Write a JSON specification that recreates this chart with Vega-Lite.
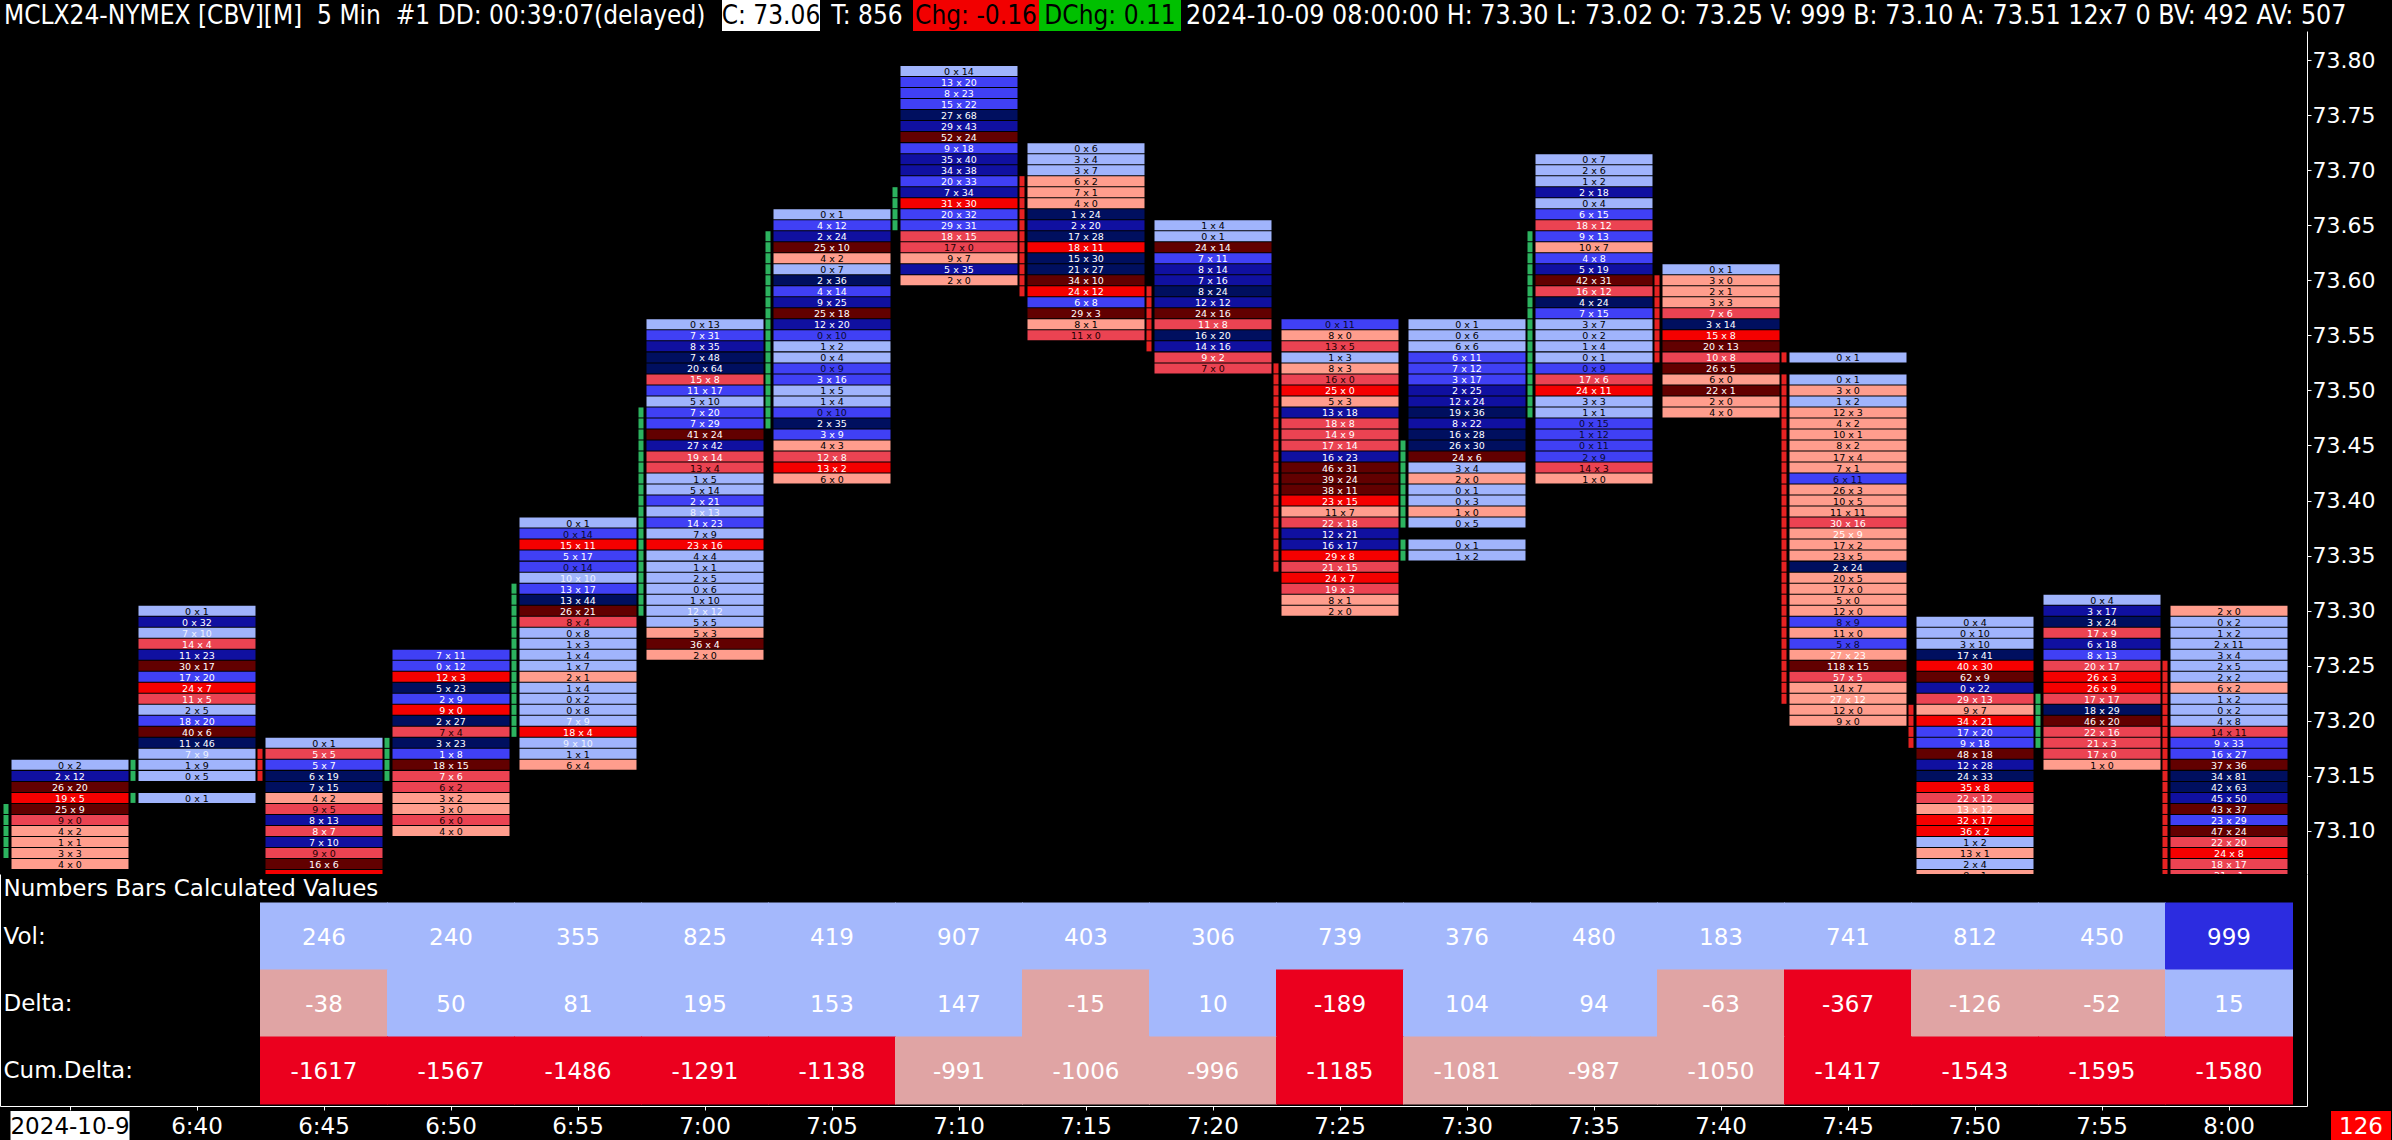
{
  "$schema": "https://vega.github.io/schema/vega-lite/v6.json",
  "description": "MCLX24 5 min numbers bars (footprint) with calculated values table",
  "background": "black",
  "padding": 0,
  "spacing": 0,
  "config": {"view": {"stroke": null}, "concat": {"spacing": 0}},
  "resolve": {"scale": {"color": "independent", "fill": "independent"}},
  "vconcat": [
    {
      "spacing": 0,
      "hconcat": [
        {
          "width": 721, "height": 31,
          "data": {"values": [{"s": "MCLX24-NYMEX [CBV][M]\u00a0\u00a05 Min\u00a0\u00a0#1 DD: 00:39:07(delayed)"}]},
          "mark": {"type": "text", "font": "DejaVu Sans Condensed", "fontSize": 26, "color": "white", "align": "left", "dx": 4, "baseline": "middle"},
          "encoding": {"text": {"field": "s"}, "x": {"datum": 0, "type": "quantitative", "scale": {"domain": [0, 1]}, "axis": null}}
        },
        {
          "width": 98, "height": 31,
          "view": {"fill": "#ffffff", "stroke": null},
          "data": {"values": [{"s": "C: 73.06"}]},
          "mark": {"type": "text", "font": "DejaVu Sans Condensed", "fontSize": 26, "color": "black", "baseline": "middle"},
          "encoding": {"text": {"field": "s"}}
        },
        {
          "width": 92, "height": 31,
          "data": {"values": [{"s": "T: 856"}]},
          "mark": {"type": "text", "font": "DejaVu Sans Condensed", "fontSize": 26, "color": "white", "baseline": "middle"},
          "encoding": {"text": {"field": "s"}}
        },
        {
          "width": 126, "height": 31,
          "view": {"fill": "#f20000", "stroke": null},
          "data": {"values": [{"s": "Chg: -0.16"}]},
          "mark": {"type": "text", "font": "DejaVu Sans Condensed", "fontSize": 26, "color": "black", "baseline": "middle"},
          "encoding": {"text": {"field": "s"}}
        },
        {
          "width": 142, "height": 31,
          "view": {"fill": "#00c000", "stroke": null},
          "data": {"values": [{"s": "DChg: 0.11"}]},
          "mark": {"type": "text", "font": "DejaVu Sans Condensed", "fontSize": 26, "color": "black", "baseline": "middle"},
          "encoding": {"text": {"field": "s"}}
        },
        {
          "width": 1213, "height": 31,
          "data": {"values": [{"s": "2024-10-09 08:00:00 H: 73.30 L: 73.02 O: 73.25 V: 999 B: 73.10 A: 73.51 12x7 0 BV: 492 AV: 507"}]},
          "mark": {"type": "text", "font": "DejaVu Sans Condensed", "fontSize": 26.5, "color": "white", "align": "left", "dx": 5, "baseline": "middle", "clip": true},
          "encoding": {"text": {"field": "s"}, "x": {"datum": 0, "type": "quantitative", "scale": {"domain": [0, 1]}, "axis": null}}
        }
      ]
    },
    {
      "width": 2307,
      "height": 843,
      "data": {"values": [
        {"i":1,"p":73.16,"t":"0 x 2","c":"b1"},
        {"i":1,"p":73.15,"t":"2 x 12","c":"b3"},
        {"i":1,"p":73.14,"t":"26 x 20","c":"r4"},
        {"i":1,"p":73.13,"t":"19 x 5","c":"r3"},
        {"i":1,"p":73.12,"t":"25 x 9","c":"r4","m":"u"},
        {"i":1,"p":73.11,"t":"9 x 0","c":"r2k","m":"u"},
        {"i":1,"p":73.10,"t":"4 x 2","c":"r1","m":"u"},
        {"i":1,"p":73.09,"t":"1 x 1","c":"r1","m":"u"},
        {"i":1,"p":73.08,"t":"3 x 3","c":"r1","m":"u"},
        {"i":1,"p":73.07,"t":"4 x 0","c":"r1"},

        {"i":2,"p":73.30,"t":"0 x 1","c":"b1"},
        {"i":2,"p":73.29,"t":"0 x 32","c":"b3"},
        {"i":2,"p":73.28,"t":"7 x 10","c":"b1w"},
        {"i":2,"p":73.27,"t":"14 x 4","c":"r2"},
        {"i":2,"p":73.26,"t":"11 x 23","c":"b3"},
        {"i":2,"p":73.25,"t":"30 x 17","c":"r4"},
        {"i":2,"p":73.24,"t":"17 x 20","c":"b2"},
        {"i":2,"p":73.23,"t":"24 x 7","c":"r3"},
        {"i":2,"p":73.22,"t":"11 x 5","c":"r2"},
        {"i":2,"p":73.21,"t":"2 x 5","c":"b1"},
        {"i":2,"p":73.20,"t":"18 x 20","c":"b2"},
        {"i":2,"p":73.19,"t":"40 x 6","c":"r4"},
        {"i":2,"p":73.18,"t":"11 x 46","c":"b4"},
        {"i":2,"p":73.17,"t":"7 x 9","c":"b1w"},
        {"i":2,"p":73.16,"t":"1 x 9","c":"b1","m":"u"},
        {"i":2,"p":73.15,"t":"0 x 5","c":"b1","m":"u"},
        {"i":2,"p":73.13,"t":"0 x 1","c":"b1","m":"u"},

        {"i":3,"p":73.18,"t":"0 x 1","c":"b1"},
        {"i":3,"p":73.17,"t":"5 x 5","c":"r2","m":"d"},
        {"i":3,"p":73.16,"t":"5 x 7","c":"b2","m":"d"},
        {"i":3,"p":73.15,"t":"6 x 19","c":"b4","m":"d"},
        {"i":3,"p":73.14,"t":"7 x 15","c":"b4"},
        {"i":3,"p":73.13,"t":"4 x 2","c":"r1"},
        {"i":3,"p":73.12,"t":"9 x 5","c":"r2k"},
        {"i":3,"p":73.11,"t":"8 x 13","c":"b3"},
        {"i":3,"p":73.10,"t":"8 x 7","c":"r2"},
        {"i":3,"p":73.09,"t":"7 x 10","c":"b3"},
        {"i":3,"p":73.08,"t":"9 x 0","c":"r2k"},
        {"i":3,"p":73.07,"t":"16 x 6","c":"r4"},
        {"i":3,"p":73.06,"t":"","c":"r3"},

        {"i":4,"p":73.26,"t":"7 x 11","c":"b2"},
        {"i":4,"p":73.25,"t":"0 x 12","c":"b2"},
        {"i":4,"p":73.24,"t":"12 x 3","c":"r3"},
        {"i":4,"p":73.23,"t":"5 x 23","c":"b4"},
        {"i":4,"p":73.22,"t":"2 x 9","c":"b2"},
        {"i":4,"p":73.21,"t":"9 x 0","c":"r3"},
        {"i":4,"p":73.20,"t":"2 x 27","c":"b4"},
        {"i":4,"p":73.19,"t":"7 x 4","c":"r2k"},
        {"i":4,"p":73.18,"t":"3 x 23","c":"b4","m":"u"},
        {"i":4,"p":73.17,"t":"1 x 8","c":"b2","m":"u"},
        {"i":4,"p":73.16,"t":"18 x 15","c":"r4","m":"u"},
        {"i":4,"p":73.15,"t":"7 x 6","c":"r2","m":"u"},
        {"i":4,"p":73.14,"t":"6 x 2","c":"r2k"},
        {"i":4,"p":73.13,"t":"3 x 2","c":"r1"},
        {"i":4,"p":73.12,"t":"3 x 0","c":"r1"},
        {"i":4,"p":73.11,"t":"6 x 0","c":"r2k"},
        {"i":4,"p":73.10,"t":"4 x 0","c":"r1"},

        {"i":5,"p":73.38,"t":"0 x 1","c":"b1"},
        {"i":5,"p":73.37,"t":"0 x 14","c":"b2k"},
        {"i":5,"p":73.36,"t":"15 x 11","c":"r3"},
        {"i":5,"p":73.35,"t":"5 x 17","c":"b2"},
        {"i":5,"p":73.34,"t":"0 x 14","c":"b2k"},
        {"i":5,"p":73.33,"t":"10 x 10","c":"b1w"},
        {"i":5,"p":73.32,"t":"13 x 17","c":"b2","m":"u"},
        {"i":5,"p":73.31,"t":"13 x 44","c":"b4","m":"u"},
        {"i":5,"p":73.30,"t":"26 x 21","c":"r4","m":"u"},
        {"i":5,"p":73.29,"t":"8 x 4","c":"r2k","m":"u"},
        {"i":5,"p":73.28,"t":"0 x 8","c":"b1","m":"u"},
        {"i":5,"p":73.27,"t":"1 x 3","c":"b1","m":"u"},
        {"i":5,"p":73.26,"t":"1 x 4","c":"b1","m":"u"},
        {"i":5,"p":73.25,"t":"1 x 7","c":"b1","m":"u"},
        {"i":5,"p":73.24,"t":"2 x 1","c":"r1","m":"u"},
        {"i":5,"p":73.23,"t":"1 x 4","c":"b1","m":"u"},
        {"i":5,"p":73.22,"t":"0 x 2","c":"b1","m":"u"},
        {"i":5,"p":73.21,"t":"0 x 8","c":"b1","m":"u"},
        {"i":5,"p":73.20,"t":"7 x 9","c":"b1w","m":"u"},
        {"i":5,"p":73.19,"t":"18 x 4","c":"r3","m":"u"},
        {"i":5,"p":73.18,"t":"9 x 10","c":"b1w"},
        {"i":5,"p":73.17,"t":"1 x 1","c":"b1"},
        {"i":5,"p":73.16,"t":"6 x 4","c":"r1"},

        {"i":6,"p":73.56,"t":"0 x 13","c":"b1"},
        {"i":6,"p":73.55,"t":"7 x 31","c":"b2"},
        {"i":6,"p":73.54,"t":"8 x 35","c":"b3"},
        {"i":6,"p":73.53,"t":"7 x 48","c":"b4"},
        {"i":6,"p":73.52,"t":"20 x 64","c":"b4"},
        {"i":6,"p":73.51,"t":"15 x 8","c":"r2"},
        {"i":6,"p":73.50,"t":"11 x 17","c":"b2"},
        {"i":6,"p":73.49,"t":"5 x 10","c":"b1"},
        {"i":6,"p":73.48,"t":"7 x 20","c":"b2","m":"u"},
        {"i":6,"p":73.47,"t":"7 x 29","c":"b2","m":"u"},
        {"i":6,"p":73.46,"t":"41 x 24","c":"r4","m":"u"},
        {"i":6,"p":73.45,"t":"27 x 42","c":"b3","m":"u"},
        {"i":6,"p":73.44,"t":"19 x 14","c":"r2","m":"u"},
        {"i":6,"p":73.43,"t":"13 x 4","c":"r2k","m":"u"},
        {"i":6,"p":73.42,"t":"1 x 5","c":"b1","m":"u"},
        {"i":6,"p":73.41,"t":"5 x 14","c":"b1","m":"u"},
        {"i":6,"p":73.40,"t":"2 x 21","c":"b2","m":"u"},
        {"i":6,"p":73.39,"t":"8 x 13","c":"b1w","m":"u"},
        {"i":6,"p":73.38,"t":"14 x 23","c":"b2","m":"u"},
        {"i":6,"p":73.37,"t":"7 x 9","c":"b1","m":"u"},
        {"i":6,"p":73.36,"t":"23 x 16","c":"r3","m":"u"},
        {"i":6,"p":73.35,"t":"4 x 4","c":"b1","m":"u"},
        {"i":6,"p":73.34,"t":"1 x 1","c":"b1","m":"u"},
        {"i":6,"p":73.33,"t":"2 x 5","c":"b1","m":"u"},
        {"i":6,"p":73.32,"t":"0 x 6","c":"b1","m":"u"},
        {"i":6,"p":73.31,"t":"1 x 10","c":"b1","m":"u"},
        {"i":6,"p":73.30,"t":"12 x 12","c":"b1w","m":"u"},
        {"i":6,"p":73.29,"t":"5 x 5","c":"b1"},
        {"i":6,"p":73.28,"t":"5 x 3","c":"r1"},
        {"i":6,"p":73.27,"t":"36 x 4","c":"r4"},
        {"i":6,"p":73.26,"t":"2 x 0","c":"r1"},

        {"i":7,"p":73.66,"t":"0 x 1","c":"b1"},
        {"i":7,"p":73.65,"t":"4 x 12","c":"b2"},
        {"i":7,"p":73.64,"t":"2 x 24","c":"b3","m":"u"},
        {"i":7,"p":73.63,"t":"25 x 10","c":"r4","m":"u"},
        {"i":7,"p":73.62,"t":"4 x 2","c":"r1","m":"u"},
        {"i":7,"p":73.61,"t":"0 x 7","c":"b1","m":"u"},
        {"i":7,"p":73.60,"t":"2 x 36","c":"b4","m":"u"},
        {"i":7,"p":73.59,"t":"4 x 14","c":"b2","m":"u"},
        {"i":7,"p":73.58,"t":"9 x 25","c":"b3","m":"u"},
        {"i":7,"p":73.57,"t":"25 x 18","c":"r4","m":"u"},
        {"i":7,"p":73.56,"t":"12 x 20","c":"b3","m":"u"},
        {"i":7,"p":73.55,"t":"0 x 10","c":"b2k","m":"u"},
        {"i":7,"p":73.54,"t":"1 x 2","c":"b1","m":"u"},
        {"i":7,"p":73.53,"t":"0 x 4","c":"b1","m":"u"},
        {"i":7,"p":73.52,"t":"0 x 9","c":"b2k","m":"u"},
        {"i":7,"p":73.51,"t":"3 x 16","c":"b2","m":"u"},
        {"i":7,"p":73.50,"t":"1 x 5","c":"b1","m":"u"},
        {"i":7,"p":73.49,"t":"1 x 4","c":"b1","m":"u"},
        {"i":7,"p":73.48,"t":"0 x 10","c":"b2k","m":"u"},
        {"i":7,"p":73.47,"t":"2 x 35","c":"b4","m":"u"},
        {"i":7,"p":73.46,"t":"3 x 9","c":"b2"},
        {"i":7,"p":73.45,"t":"4 x 3","c":"r1"},
        {"i":7,"p":73.44,"t":"12 x 8","c":"r2"},
        {"i":7,"p":73.43,"t":"13 x 2","c":"r3"},
        {"i":7,"p":73.42,"t":"6 x 0","c":"r1"},

        {"i":8,"p":73.79,"t":"0 x 14","c":"b1"},
        {"i":8,"p":73.78,"t":"13 x 20","c":"b2"},
        {"i":8,"p":73.77,"t":"8 x 23","c":"b2"},
        {"i":8,"p":73.76,"t":"15 x 22","c":"b2"},
        {"i":8,"p":73.75,"t":"27 x 68","c":"b4"},
        {"i":8,"p":73.74,"t":"29 x 43","c":"b3"},
        {"i":8,"p":73.73,"t":"52 x 24","c":"r4"},
        {"i":8,"p":73.72,"t":"9 x 18","c":"b2"},
        {"i":8,"p":73.71,"t":"35 x 40","c":"b3"},
        {"i":8,"p":73.70,"t":"34 x 38","c":"b3"},
        {"i":8,"p":73.69,"t":"20 x 33","c":"b2"},
        {"i":8,"p":73.68,"t":"7 x 34","c":"b3","m":"u"},
        {"i":8,"p":73.67,"t":"31 x 30","c":"r3","m":"u"},
        {"i":8,"p":73.66,"t":"20 x 32","c":"b2","m":"u"},
        {"i":8,"p":73.65,"t":"29 x 31","c":"b2","m":"u"},
        {"i":8,"p":73.64,"t":"18 x 15","c":"r2"},
        {"i":8,"p":73.63,"t":"17 x 0","c":"r2k"},
        {"i":8,"p":73.62,"t":"9 x 7","c":"r1"},
        {"i":8,"p":73.61,"t":"5 x 35","c":"b3"},
        {"i":8,"p":73.60,"t":"2 x 0","c":"r1"},

        {"i":9,"p":73.72,"t":"0 x 6","c":"b1"},
        {"i":9,"p":73.71,"t":"3 x 4","c":"b1"},
        {"i":9,"p":73.70,"t":"3 x 7","c":"b1"},
        {"i":9,"p":73.69,"t":"6 x 2","c":"r1","m":"d"},
        {"i":9,"p":73.68,"t":"7 x 1","c":"r1","m":"d"},
        {"i":9,"p":73.67,"t":"4 x 0","c":"r1","m":"d"},
        {"i":9,"p":73.66,"t":"1 x 24","c":"b4","m":"d"},
        {"i":9,"p":73.65,"t":"2 x 20","c":"b3","m":"d"},
        {"i":9,"p":73.64,"t":"17 x 28","c":"b4","m":"d"},
        {"i":9,"p":73.63,"t":"18 x 11","c":"r3","m":"d"},
        {"i":9,"p":73.62,"t":"15 x 30","c":"b4","m":"d"},
        {"i":9,"p":73.61,"t":"21 x 27","c":"b4","m":"d"},
        {"i":9,"p":73.60,"t":"34 x 10","c":"r4","m":"d"},
        {"i":9,"p":73.59,"t":"24 x 12","c":"r3","m":"d"},
        {"i":9,"p":73.58,"t":"6 x 8","c":"b2"},
        {"i":9,"p":73.57,"t":"29 x 3","c":"r4"},
        {"i":9,"p":73.56,"t":"8 x 1","c":"r1"},
        {"i":9,"p":73.55,"t":"11 x 0","c":"r2k"},

        {"i":10,"p":73.65,"t":"1 x 4","c":"b1"},
        {"i":10,"p":73.64,"t":"0 x 1","c":"b1"},
        {"i":10,"p":73.63,"t":"24 x 14","c":"r4"},
        {"i":10,"p":73.62,"t":"7 x 11","c":"b2"},
        {"i":10,"p":73.61,"t":"8 x 14","c":"b3"},
        {"i":10,"p":73.60,"t":"7 x 16","c":"b3"},
        {"i":10,"p":73.59,"t":"8 x 24","c":"b4","m":"d"},
        {"i":10,"p":73.58,"t":"12 x 12","c":"b3","m":"d"},
        {"i":10,"p":73.57,"t":"24 x 16","c":"r4","m":"d"},
        {"i":10,"p":73.56,"t":"11 x 8","c":"r2","m":"d"},
        {"i":10,"p":73.55,"t":"16 x 20","c":"b4","m":"d"},
        {"i":10,"p":73.54,"t":"14 x 16","c":"b3","m":"d"},
        {"i":10,"p":73.53,"t":"9 x 2","c":"r2"},
        {"i":10,"p":73.52,"t":"7 x 0","c":"r2k"},

        {"i":11,"p":73.56,"t":"0 x 11","c":"b2k"},
        {"i":11,"p":73.55,"t":"8 x 0","c":"r1"},
        {"i":11,"p":73.54,"t":"13 x 5","c":"r2k"},
        {"i":11,"p":73.53,"t":"1 x 3","c":"b1"},
        {"i":11,"p":73.52,"t":"8 x 3","c":"r1","m":"d"},
        {"i":11,"p":73.51,"t":"16 x 0","c":"r2k","m":"d"},
        {"i":11,"p":73.50,"t":"25 x 0","c":"r3","m":"d"},
        {"i":11,"p":73.49,"t":"5 x 3","c":"r1","m":"d"},
        {"i":11,"p":73.48,"t":"13 x 18","c":"b3","m":"d"},
        {"i":11,"p":73.47,"t":"18 x 8","c":"r2","m":"d"},
        {"i":11,"p":73.46,"t":"14 x 9","c":"r2","m":"d"},
        {"i":11,"p":73.45,"t":"17 x 14","c":"r2","m":"d"},
        {"i":11,"p":73.44,"t":"16 x 23","c":"b3","m":"d"},
        {"i":11,"p":73.43,"t":"46 x 31","c":"r4","m":"d"},
        {"i":11,"p":73.42,"t":"39 x 24","c":"r4","m":"d"},
        {"i":11,"p":73.41,"t":"38 x 11","c":"r4","m":"d"},
        {"i":11,"p":73.40,"t":"23 x 15","c":"r3","m":"d"},
        {"i":11,"p":73.39,"t":"11 x 7","c":"r1","m":"d"},
        {"i":11,"p":73.38,"t":"22 x 18","c":"r2","m":"d"},
        {"i":11,"p":73.37,"t":"12 x 21","c":"b3","m":"d"},
        {"i":11,"p":73.36,"t":"16 x 17","c":"b3","m":"d"},
        {"i":11,"p":73.35,"t":"29 x 8","c":"r3","m":"d"},
        {"i":11,"p":73.34,"t":"21 x 15","c":"r2","m":"d"},
        {"i":11,"p":73.33,"t":"24 x 7","c":"r3"},
        {"i":11,"p":73.32,"t":"19 x 3","c":"r2"},
        {"i":11,"p":73.31,"t":"8 x 1","c":"r1"},
        {"i":11,"p":73.30,"t":"2 x 0","c":"r1"},

        {"i":12,"p":73.56,"t":"0 x 1","c":"b1"},
        {"i":12,"p":73.55,"t":"0 x 6","c":"b1"},
        {"i":12,"p":73.54,"t":"6 x 6","c":"b1"},
        {"i":12,"p":73.53,"t":"6 x 11","c":"b2"},
        {"i":12,"p":73.52,"t":"7 x 12","c":"b2"},
        {"i":12,"p":73.51,"t":"3 x 17","c":"b2"},
        {"i":12,"p":73.50,"t":"2 x 25","c":"b3"},
        {"i":12,"p":73.49,"t":"12 x 24","c":"b3"},
        {"i":12,"p":73.48,"t":"19 x 36","c":"b4"},
        {"i":12,"p":73.47,"t":"8 x 22","c":"b3"},
        {"i":12,"p":73.46,"t":"16 x 28","c":"b4"},
        {"i":12,"p":73.45,"t":"26 x 30","c":"b4","m":"u"},
        {"i":12,"p":73.44,"t":"24 x 6","c":"r4","m":"u"},
        {"i":12,"p":73.43,"t":"3 x 4","c":"b1","m":"u"},
        {"i":12,"p":73.42,"t":"2 x 0","c":"r1","m":"u"},
        {"i":12,"p":73.41,"t":"0 x 1","c":"b1","m":"u"},
        {"i":12,"p":73.40,"t":"0 x 3","c":"b1","m":"u"},
        {"i":12,"p":73.39,"t":"1 x 0","c":"r1","m":"u"},
        {"i":12,"p":73.38,"t":"0 x 5","c":"b1","m":"u"},
        {"i":12,"p":73.36,"t":"0 x 1","c":"b1","m":"u"},
        {"i":12,"p":73.35,"t":"1 x 2","c":"b1","m":"u"},

        {"i":13,"p":73.71,"t":"0 x 7","c":"b1"},
        {"i":13,"p":73.70,"t":"2 x 6","c":"b1"},
        {"i":13,"p":73.69,"t":"1 x 2","c":"b1"},
        {"i":13,"p":73.68,"t":"2 x 18","c":"b3"},
        {"i":13,"p":73.67,"t":"0 x 4","c":"b1"},
        {"i":13,"p":73.66,"t":"6 x 15","c":"b2"},
        {"i":13,"p":73.65,"t":"18 x 12","c":"r2"},
        {"i":13,"p":73.64,"t":"9 x 13","c":"b2","m":"u"},
        {"i":13,"p":73.63,"t":"10 x 7","c":"r1","m":"u"},
        {"i":13,"p":73.62,"t":"4 x 8","c":"b2","m":"u"},
        {"i":13,"p":73.61,"t":"5 x 19","c":"b3","m":"u"},
        {"i":13,"p":73.60,"t":"42 x 31","c":"r4","m":"u"},
        {"i":13,"p":73.59,"t":"16 x 12","c":"r2","m":"u"},
        {"i":13,"p":73.58,"t":"4 x 24","c":"b4","m":"u"},
        {"i":13,"p":73.57,"t":"7 x 15","c":"b2","m":"u"},
        {"i":13,"p":73.56,"t":"3 x 7","c":"b1","m":"u"},
        {"i":13,"p":73.55,"t":"0 x 2","c":"b1","m":"u"},
        {"i":13,"p":73.54,"t":"1 x 4","c":"b1","m":"u"},
        {"i":13,"p":73.53,"t":"0 x 1","c":"b1","m":"u"},
        {"i":13,"p":73.52,"t":"0 x 9","c":"b2k","m":"u"},
        {"i":13,"p":73.51,"t":"17 x 6","c":"r2","m":"u"},
        {"i":13,"p":73.50,"t":"24 x 11","c":"r3","m":"u"},
        {"i":13,"p":73.49,"t":"3 x 3","c":"b1","m":"u"},
        {"i":13,"p":73.48,"t":"1 x 1","c":"b1","m":"u"},
        {"i":13,"p":73.47,"t":"0 x 15","c":"b2k"},
        {"i":13,"p":73.46,"t":"1 x 12","c":"b2k"},
        {"i":13,"p":73.45,"t":"0 x 11","c":"b2k"},
        {"i":13,"p":73.44,"t":"2 x 9","c":"b2k"},
        {"i":13,"p":73.43,"t":"14 x 3","c":"r2k"},
        {"i":13,"p":73.42,"t":"1 x 0","c":"r1"},

        {"i":14,"p":73.61,"t":"0 x 1","c":"b1"},
        {"i":14,"p":73.60,"t":"3 x 0","c":"r1","m":"d"},
        {"i":14,"p":73.59,"t":"2 x 1","c":"r1","m":"d"},
        {"i":14,"p":73.58,"t":"3 x 3","c":"r1","m":"d"},
        {"i":14,"p":73.57,"t":"7 x 6","c":"r2","m":"d"},
        {"i":14,"p":73.56,"t":"3 x 14","c":"b4","m":"d"},
        {"i":14,"p":73.55,"t":"15 x 8","c":"r3","m":"d"},
        {"i":14,"p":73.54,"t":"20 x 13","c":"r4","m":"d"},
        {"i":14,"p":73.53,"t":"10 x 8","c":"r2","m":"d"},
        {"i":14,"p":73.52,"t":"26 x 5","c":"r4"},
        {"i":14,"p":73.51,"t":"6 x 0","c":"r1"},
        {"i":14,"p":73.50,"t":"22 x 1","c":"r4"},
        {"i":14,"p":73.49,"t":"2 x 0","c":"r1"},
        {"i":14,"p":73.48,"t":"4 x 0","c":"r1"},

        {"i":15,"p":73.53,"t":"0 x 1","c":"b1","m":"d"},
        {"i":15,"p":73.51,"t":"0 x 1","c":"b1","m":"d"},
        {"i":15,"p":73.50,"t":"3 x 0","c":"r1","m":"d"},
        {"i":15,"p":73.49,"t":"1 x 2","c":"b1","m":"d"},
        {"i":15,"p":73.48,"t":"12 x 3","c":"r1","m":"d"},
        {"i":15,"p":73.47,"t":"4 x 2","c":"r1","m":"d"},
        {"i":15,"p":73.46,"t":"10 x 1","c":"r1","m":"d"},
        {"i":15,"p":73.45,"t":"8 x 2","c":"r1","m":"d"},
        {"i":15,"p":73.44,"t":"17 x 4","c":"r1","m":"d"},
        {"i":15,"p":73.43,"t":"7 x 1","c":"r1","m":"d"},
        {"i":15,"p":73.42,"t":"6 x 11","c":"b2k","m":"d"},
        {"i":15,"p":73.41,"t":"26 x 3","c":"r1","m":"d"},
        {"i":15,"p":73.40,"t":"10 x 5","c":"r1","m":"d"},
        {"i":15,"p":73.39,"t":"11 x 11","c":"r1","m":"d"},
        {"i":15,"p":73.38,"t":"30 x 16","c":"r2","m":"d"},
        {"i":15,"p":73.37,"t":"25 x 9","c":"r1w","m":"d"},
        {"i":15,"p":73.36,"t":"17 x 2","c":"r1","m":"d"},
        {"i":15,"p":73.35,"t":"23 x 5","c":"r1","m":"d"},
        {"i":15,"p":73.34,"t":"2 x 24","c":"b4","m":"d"},
        {"i":15,"p":73.33,"t":"20 x 5","c":"r1","m":"d"},
        {"i":15,"p":73.32,"t":"17 x 0","c":"r1","m":"d"},
        {"i":15,"p":73.31,"t":"5 x 0","c":"r1","m":"d"},
        {"i":15,"p":73.30,"t":"12 x 0","c":"r1","m":"d"},
        {"i":15,"p":73.29,"t":"8 x 9","c":"b2k","m":"d"},
        {"i":15,"p":73.28,"t":"11 x 0","c":"r1","m":"d"},
        {"i":15,"p":73.27,"t":"5 x 8","c":"b2k","m":"d"},
        {"i":15,"p":73.26,"t":"27 x 23","c":"r1w","m":"d"},
        {"i":15,"p":73.25,"t":"118 x 15","c":"r4","m":"d"},
        {"i":15,"p":73.24,"t":"57 x 5","c":"r2","m":"d"},
        {"i":15,"p":73.23,"t":"14 x 7","c":"r1","m":"d"},
        {"i":15,"p":73.22,"t":"27 x 12","c":"r1w","m":"d"},
        {"i":15,"p":73.21,"t":"12 x 0","c":"r1"},
        {"i":15,"p":73.20,"t":"9 x 0","c":"r1"},

        {"i":16,"p":73.29,"t":"0 x 4","c":"b1"},
        {"i":16,"p":73.28,"t":"0 x 10","c":"b1"},
        {"i":16,"p":73.27,"t":"3 x 10","c":"b1"},
        {"i":16,"p":73.26,"t":"17 x 41","c":"b4"},
        {"i":16,"p":73.25,"t":"40 x 30","c":"r3"},
        {"i":16,"p":73.24,"t":"62 x 9","c":"r4"},
        {"i":16,"p":73.23,"t":"0 x 22","c":"b3"},
        {"i":16,"p":73.22,"t":"29 x 13","c":"r2"},
        {"i":16,"p":73.21,"t":"9 x 7","c":"r1","m":"d"},
        {"i":16,"p":73.20,"t":"34 x 21","c":"r3","m":"d"},
        {"i":16,"p":73.19,"t":"17 x 20","c":"b2","m":"d"},
        {"i":16,"p":73.18,"t":"9 x 18","c":"b2","m":"d"},
        {"i":16,"p":73.17,"t":"48 x 18","c":"r4"},
        {"i":16,"p":73.16,"t":"12 x 28","c":"b3"},
        {"i":16,"p":73.15,"t":"24 x 33","c":"b4"},
        {"i":16,"p":73.14,"t":"35 x 8","c":"r3"},
        {"i":16,"p":73.13,"t":"22 x 12","c":"r2"},
        {"i":16,"p":73.12,"t":"13 x 12","c":"r1w"},
        {"i":16,"p":73.11,"t":"32 x 17","c":"r3"},
        {"i":16,"p":73.10,"t":"36 x 2","c":"r3"},
        {"i":16,"p":73.09,"t":"1 x 2","c":"b1"},
        {"i":16,"p":73.08,"t":"13 x 1","c":"r1"},
        {"i":16,"p":73.07,"t":"2 x 4","c":"b1"},
        {"i":16,"p":73.06,"t":"8 x 1","c":"r1"},

        {"i":17,"p":73.31,"t":"0 x 4","c":"b1"},
        {"i":17,"p":73.30,"t":"3 x 17","c":"b3"},
        {"i":17,"p":73.29,"t":"3 x 24","c":"b4"},
        {"i":17,"p":73.28,"t":"17 x 9","c":"r2"},
        {"i":17,"p":73.27,"t":"6 x 18","c":"b3"},
        {"i":17,"p":73.26,"t":"8 x 13","c":"b2"},
        {"i":17,"p":73.25,"t":"20 x 17","c":"r2"},
        {"i":17,"p":73.24,"t":"26 x 3","c":"r3"},
        {"i":17,"p":73.23,"t":"26 x 9","c":"r3"},
        {"i":17,"p":73.22,"t":"17 x 17","c":"r2","m":"u"},
        {"i":17,"p":73.21,"t":"18 x 29","c":"b4","m":"u"},
        {"i":17,"p":73.20,"t":"46 x 20","c":"r4","m":"u"},
        {"i":17,"p":73.19,"t":"22 x 16","c":"r2","m":"u"},
        {"i":17,"p":73.18,"t":"21 x 3","c":"r2","m":"u"},
        {"i":17,"p":73.17,"t":"17 x 0","c":"r2"},
        {"i":17,"p":73.16,"t":"1 x 0","c":"r1"},

        {"i":18,"p":73.30,"t":"2 x 0","c":"r1"},
        {"i":18,"p":73.29,"t":"0 x 2","c":"b1"},
        {"i":18,"p":73.28,"t":"1 x 2","c":"b1"},
        {"i":18,"p":73.27,"t":"2 x 11","c":"b1"},
        {"i":18,"p":73.26,"t":"3 x 4","c":"b1"},
        {"i":18,"p":73.25,"t":"2 x 5","c":"b1","m":"d"},
        {"i":18,"p":73.24,"t":"2 x 2","c":"b1","m":"d"},
        {"i":18,"p":73.23,"t":"6 x 2","c":"r1","m":"d"},
        {"i":18,"p":73.22,"t":"1 x 2","c":"b1","m":"d"},
        {"i":18,"p":73.21,"t":"0 x 2","c":"b1","m":"d"},
        {"i":18,"p":73.20,"t":"4 x 8","c":"b1","m":"d"},
        {"i":18,"p":73.19,"t":"14 x 11","c":"r2k","m":"d"},
        {"i":18,"p":73.18,"t":"9 x 33","c":"b2","m":"d"},
        {"i":18,"p":73.17,"t":"16 x 27","c":"b2","m":"d"},
        {"i":18,"p":73.16,"t":"37 x 36","c":"r4","m":"d"},
        {"i":18,"p":73.15,"t":"34 x 81","c":"b4","m":"d"},
        {"i":18,"p":73.14,"t":"42 x 63","c":"b4","m":"d"},
        {"i":18,"p":73.13,"t":"45 x 50","c":"b3","m":"d"},
        {"i":18,"p":73.12,"t":"43 x 37","c":"r4","m":"d"},
        {"i":18,"p":73.11,"t":"23 x 29","c":"b2","m":"d"},
        {"i":18,"p":73.10,"t":"47 x 24","c":"r4","m":"d"},
        {"i":18,"p":73.09,"t":"22 x 20","c":"r2","m":"d"},
        {"i":18,"p":73.08,"t":"24 x 8","c":"r3","m":"d"},
        {"i":18,"p":73.07,"t":"18 x 17","c":"r2","m":"d"},
        {"i":18,"p":73.06,"t":"21 x 1","c":"r2","m":"d"}
      ]},
      "layer": [
        {
          "mark": {"type": "tick", "orient": "horizontal", "size": 117, "thickness": 10, "opacity": 1, "clip": true},
          "encoding": {
            "x": {"field": "i", "type": "quantitative", "scale": {"domain": [0.448819, 18.614173], "nice": false, "zero": false}, "axis": null},
            "y": {"field": "p", "type": "quantitative", "scale": {"domain": [73.06091, 73.82636], "nice": false, "zero": false},
              "axis": {"orient": "right", "values": [73.1, 73.15, 73.2, 73.25, 73.3, 73.35, 73.4, 73.45, 73.5, 73.55, 73.6, 73.65, 73.7, 73.75, 73.8],
                "format": ".2f", "title": null, "grid": false, "labelFont": "DejaVu Sans", "labelFontSize": 22, "labelColor": "white",
                "domainColor": "white", "tickColor": "white", "tickSize": 4, "labelPadding": 1, "labelBaseline": "middle", "labelOverlap": false, "labelFlush": false}},
            "color": {"field": "c", "type": "nominal", "legend": null,
              "scale": {"domain": ["b1","b1w","b2","b2k","b3","b4","r1","r1w","r2","r2k","r3","r4","u","d"],
                "range": ["#a0b4fc","#a0b4fc","#4040f5","#4040f5","#1010a0","#000f5f","#ff9d8d","#ff9d8d","#eb4352","#eb4352","#f50000","#620000","#2cb35f","#e62222"]}}
          }
        },
        {
          "transform": [{"filter": "datum.m"}],
          "mark": {"type": "tick", "orient": "horizontal", "size": 5, "thickness": 10, "opacity": 1, "xOffset": -64, "clip": true},
          "encoding": {
            "x": {"field": "i", "type": "quantitative"},
            "y": {"field": "p", "type": "quantitative"},
            "color": {"field": "m", "type": "nominal", "legend": null,
              "scale": {"domain": ["b1","b1w","b2","b2k","b3","b4","r1","r1w","r2","r2k","r3","r4","u","d"],
                "range": ["#a0b4fc","#a0b4fc","#4040f5","#4040f5","#1010a0","#000f5f","#ff9d8d","#ff9d8d","#eb4352","#eb4352","#f50000","#620000","#2cb35f","#e62222"]}}
          }
        },
        {
          "mark": {"type": "text", "font": "DejaVu Sans", "fontSize": 9.5, "baseline": "middle", "dy": 1, "clip": true},
          "encoding": {
            "x": {"field": "i", "type": "quantitative"},
            "y": {"field": "p", "type": "quantitative"},
            "text": {"field": "t", "type": "nominal"},
            "fill": {"field": "c", "type": "nominal", "legend": null,
              "scale": {"domain": ["b1","b1w","b2","b2k","b3","b4","r1","r1w","r2","r2k","r3","r4"],
                "range": ["#000000","#eef2ff","#ffffff","#0a0a30","#ffffff","#ffffff","#000000","#ffffff","#ffffff","#1a0000","#ffffff","#ffffff"]}}
          }
        }
      ]
    },
    {
      "width": 2307,
      "height": 232,
      "data": {"values": [
        {"i":3,"r":0,"v":"246","c":"lb"},{"i":4,"r":0,"v":"240","c":"lb"},{"i":5,"r":0,"v":"355","c":"lb"},{"i":6,"r":0,"v":"825","c":"lb"},
        {"i":7,"r":0,"v":"419","c":"lb"},{"i":8,"r":0,"v":"907","c":"lb"},{"i":9,"r":0,"v":"403","c":"lb"},{"i":10,"r":0,"v":"306","c":"lb"},
        {"i":11,"r":0,"v":"739","c":"lb"},{"i":12,"r":0,"v":"376","c":"lb"},{"i":13,"r":0,"v":"480","c":"lb"},{"i":14,"r":0,"v":"183","c":"lb"},
        {"i":15,"r":0,"v":"741","c":"lb"},{"i":16,"r":0,"v":"812","c":"lb"},{"i":17,"r":0,"v":"450","c":"lb"},{"i":18,"r":0,"v":"999","c":"hb"},
        {"i":3,"r":1,"v":"-38","c":"pk"},{"i":4,"r":1,"v":"50","c":"lb"},{"i":5,"r":1,"v":"81","c":"lb"},{"i":6,"r":1,"v":"195","c":"lb"},
        {"i":7,"r":1,"v":"153","c":"lb"},{"i":8,"r":1,"v":"147","c":"lb"},{"i":9,"r":1,"v":"-15","c":"pk"},{"i":10,"r":1,"v":"10","c":"lb"},
        {"i":11,"r":1,"v":"-189","c":"rd"},{"i":12,"r":1,"v":"104","c":"lb"},{"i":13,"r":1,"v":"94","c":"lb"},{"i":14,"r":1,"v":"-63","c":"pk"},
        {"i":15,"r":1,"v":"-367","c":"rd"},{"i":16,"r":1,"v":"-126","c":"pk"},{"i":17,"r":1,"v":"-52","c":"pk"},{"i":18,"r":1,"v":"15","c":"lb"},
        {"i":3,"r":2,"v":"-1617","c":"rd"},{"i":4,"r":2,"v":"-1567","c":"rd"},{"i":5,"r":2,"v":"-1486","c":"rd"},{"i":6,"r":2,"v":"-1291","c":"rd"},
        {"i":7,"r":2,"v":"-1138","c":"rd"},{"i":8,"r":2,"v":"-991","c":"pk"},{"i":9,"r":2,"v":"-1006","c":"pk"},{"i":10,"r":2,"v":"-996","c":"pk"},
        {"i":11,"r":2,"v":"-1185","c":"rd"},{"i":12,"r":2,"v":"-1081","c":"pk"},{"i":13,"r":2,"v":"-987","c":"pk"},{"i":14,"r":2,"v":"-1050","c":"pk"},
        {"i":15,"r":2,"v":"-1417","c":"rd"},{"i":16,"r":2,"v":"-1543","c":"rd"},{"i":17,"r":2,"v":"-1595","c":"rd"},{"i":18,"r":2,"v":"-1580","c":"rd"}
      ]},
      "layer": [
        {
          "mark": {"type": "tick", "orient": "horizontal", "size": 128, "thickness": 68, "opacity": 1},
          "encoding": {
            "x": {"field": "i", "type": "quantitative", "scale": {"domain": [0.448819, 18.614173], "nice": false, "zero": false},
              "axis": {"orient": "bottom", "values": [1,2,3,4,5,6,7,8,9,10,11,12,13,14,15,16,17,18], "labels": false, "title": null, "grid": false,
                "domainColor": "white", "tickColor": "white", "tickSize": 4}},
            "y": {"field": "r", "type": "quantitative", "scale": {"domain": [-0.93284, 2.52985], "reverse": true, "nice": false, "zero": false},
              "axis": {"orient": "left", "values": [-0.70896, 0, 1, 2],
                "labelExpr": "datum.value < -0.5 ? 'Numbers Bars Calculated Values' : ['Vol:', 'Delta:', 'Cum.Delta:'][datum.value]",
                "ticks": false, "tickSize": 0, "labelPadding": -3, "labelAlign": "left", "labelBaseline": "middle", "labelLimit": 0,
                "labelFont": "DejaVu Sans", "labelFontSize": 23, "labelColor": "white", "domainColor": "white",
                "grid": false, "title": null, "labelOverlap": false}},
            "color": {"field": "c", "type": "nominal", "legend": null,
              "scale": {"domain": ["lb","hb","pk","rd"], "range": ["#a4b8fc","#2c2ce0","#e0a4a4","#eb001e"]}}
          }
        },
        {
          "mark": {"type": "text", "font": "DejaVu Sans", "fontSize": 23, "color": "white", "baseline": "middle", "dy": 1},
          "encoding": {
            "x": {"field": "i", "type": "quantitative"},
            "y": {"field": "r", "type": "quantitative",
              "axis": {"orient": "right", "labels": false, "ticks": false, "domainColor": "white", "grid": false, "title": null}},
            "text": {"field": "v", "type": "nominal"}
          }
        }
      ],
      "resolve": {"axis": {"y": "independent"}}
    },
    {
      "spacing": 24,
      "hconcat": [
        {
          "width": 2307,
          "height": 30,
          "data": {"values": [
            {"i":1,"t":"2024-10-9"},{"i":2,"t":"6:40"},{"i":3,"t":"6:45"},{"i":4,"t":"6:50"},{"i":5,"t":"6:55"},{"i":6,"t":"7:00"},
            {"i":7,"t":"7:05"},{"i":8,"t":"7:10"},{"i":9,"t":"7:15"},{"i":10,"t":"7:20"},{"i":11,"t":"7:25"},{"i":12,"t":"7:30"},
            {"i":13,"t":"7:35"},{"i":14,"t":"7:40"},{"i":15,"t":"7:45"},{"i":16,"t":"7:50"},{"i":17,"t":"7:55"},{"i":18,"t":"8:00"}
          ]},
          "layer": [
            {
              "transform": [{"filter": "datum.i == 1"}],
              "mark": {"type": "tick", "orient": "horizontal", "size": 119, "thickness": 30, "color": "white", "opacity": 1},
              "encoding": {
                "x": {"field": "i", "type": "quantitative", "scale": {"domain": [0.448819, 18.614173], "nice": false, "zero": false}, "axis": null}
              }
            },
            {
              "mark": {"type": "text", "font": "DejaVu Sans", "fontSize": 23, "baseline": "middle", "dy": 1},
              "encoding": {
                "x": {"field": "i", "type": "quantitative"},
                "text": {"field": "t", "type": "nominal"},
                "color": {"condition": {"test": "datum.i == 1", "value": "black"}, "value": "white"}
              }
            }
          ]
        },
        {
          "width": 60,
          "height": 30,
          "view": {"fill": "#ff0000", "stroke": null},
          "data": {"values": [{"s": "126"}]},
          "mark": {"type": "text", "font": "DejaVu Sans", "fontSize": 23, "color": "white", "baseline": "middle", "dy": 1},
          "encoding": {"text": {"field": "s"}}
        }
      ]
    }
  ]
}
